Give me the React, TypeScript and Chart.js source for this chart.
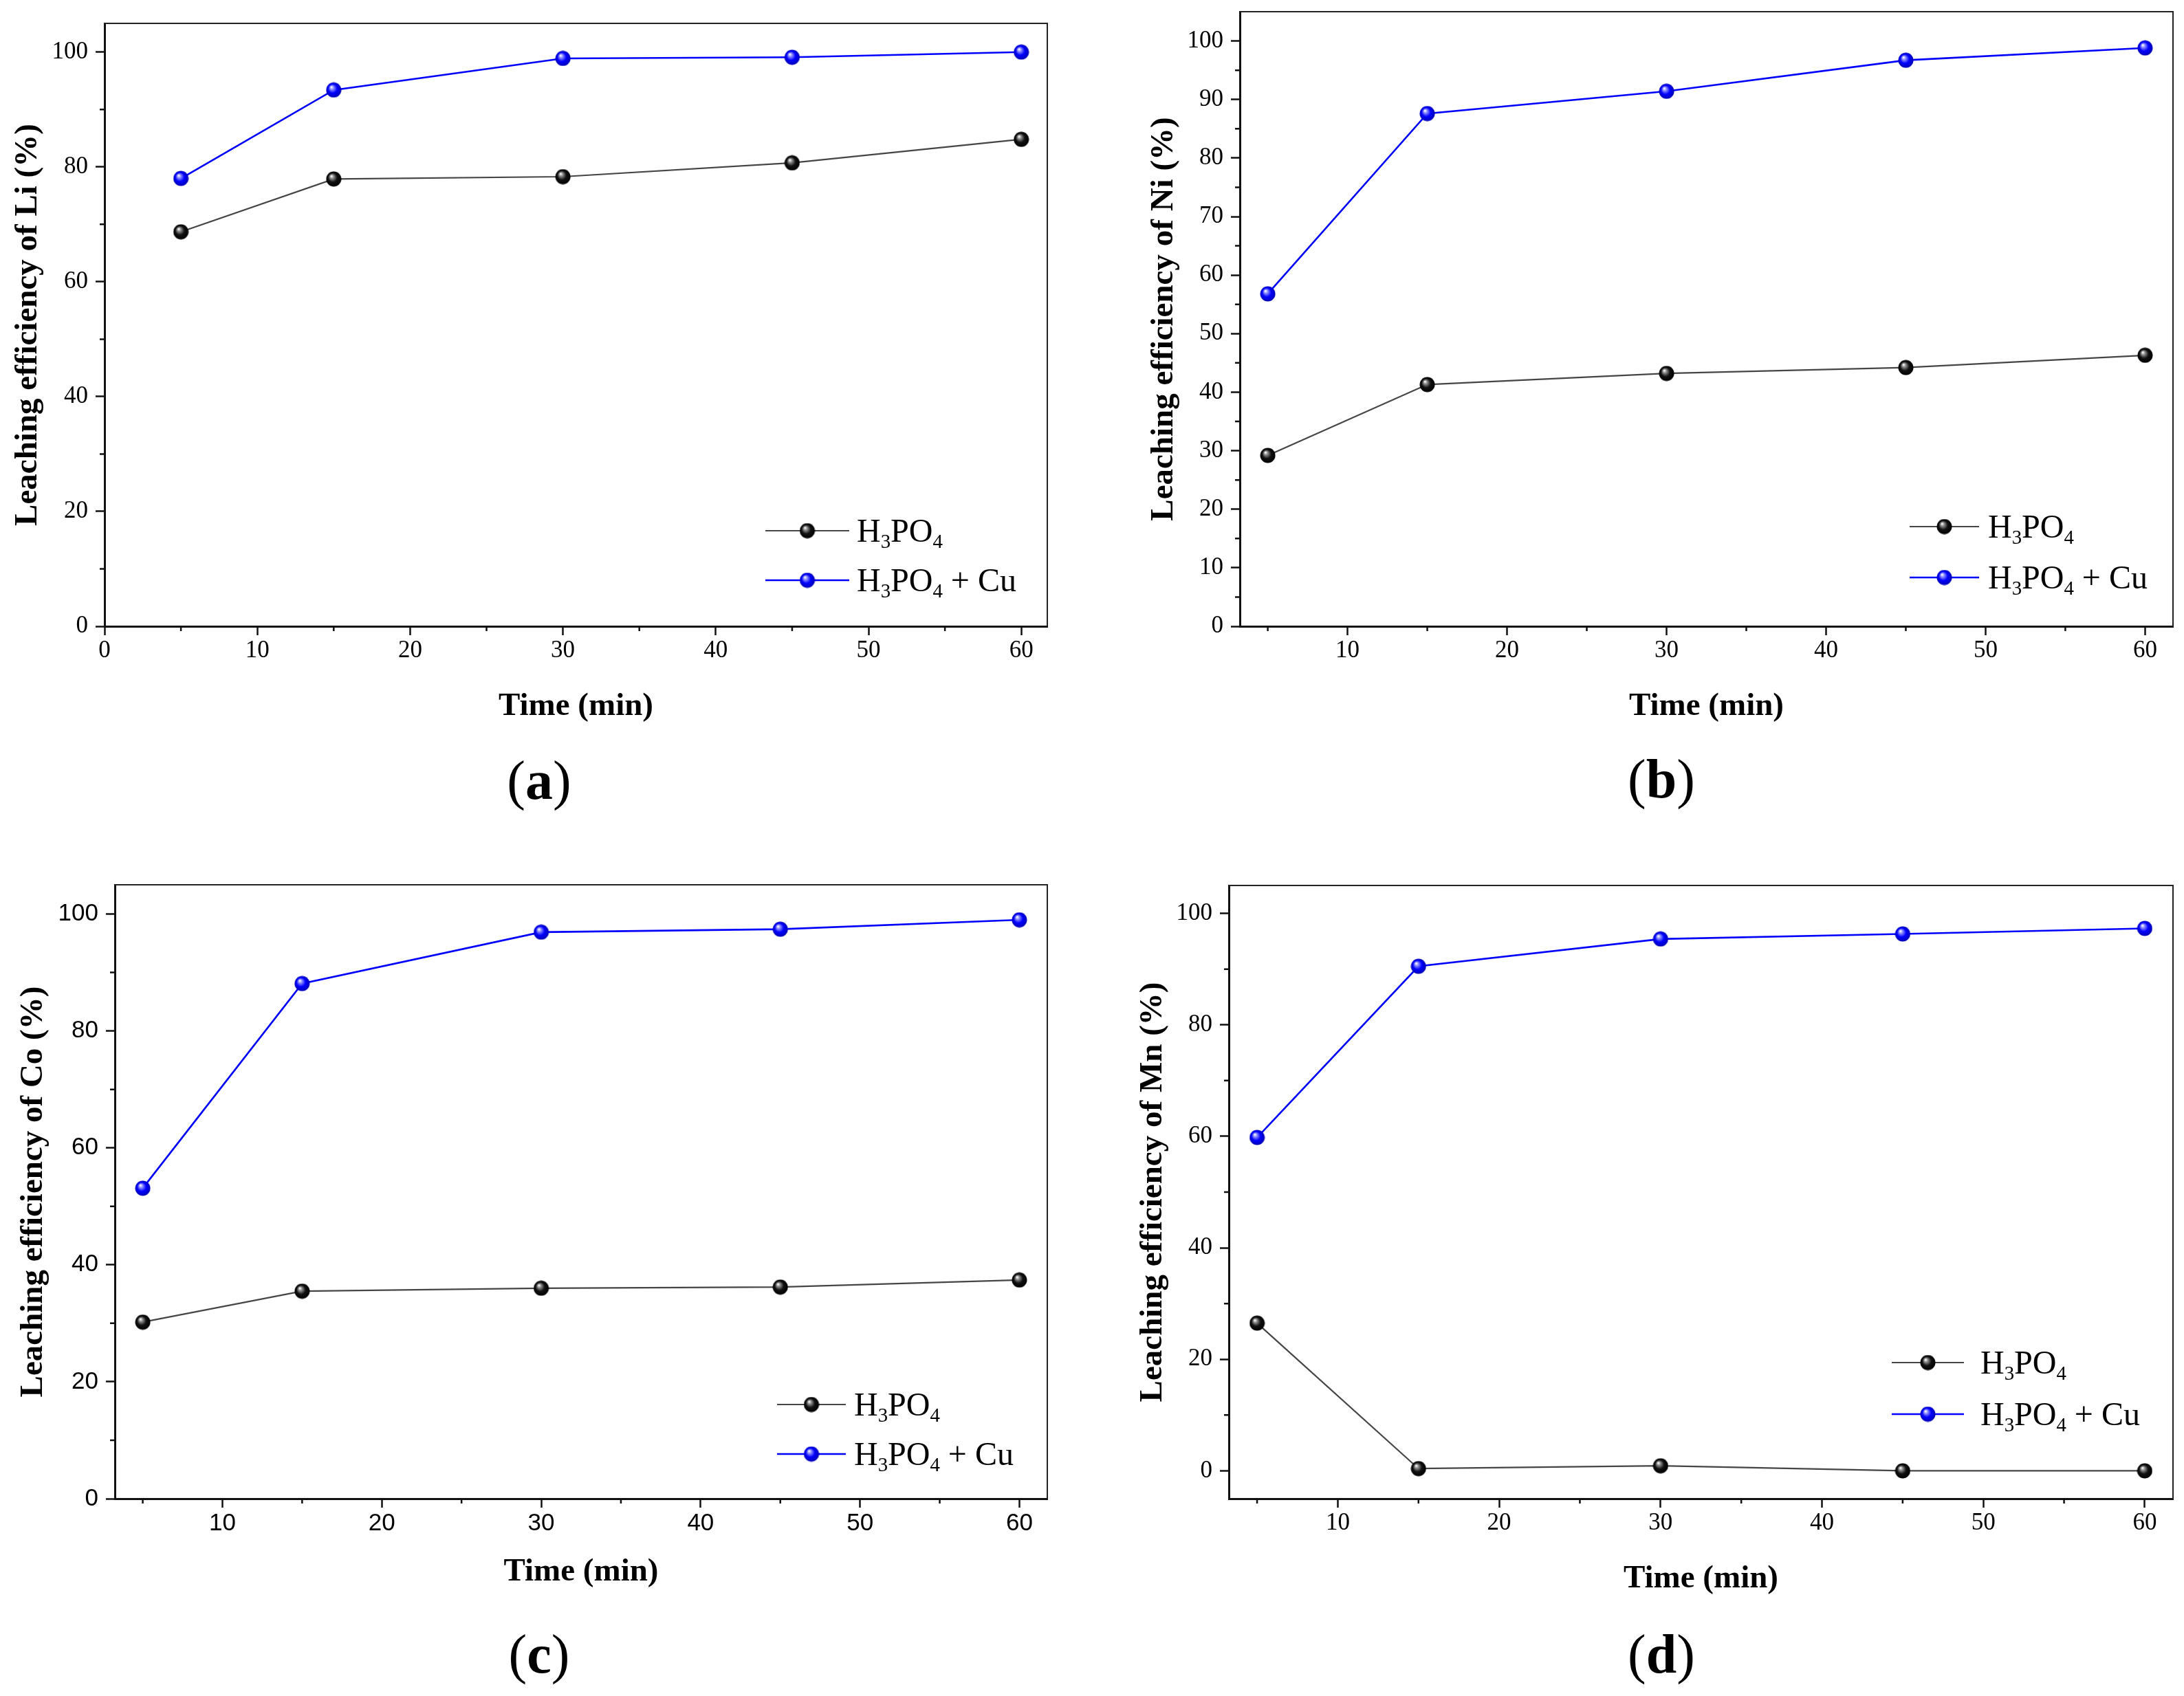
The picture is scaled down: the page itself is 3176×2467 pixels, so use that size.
import React, { useEffect, useRef } from "react";
import { Chart, registerables } from "chart.js";

Chart.register(...registerables);

// leaching time (min)
const timeMin = [5, 15, 30, 45, 60];

// leaching efficiency (%)
const liH3PO4 = [68.7, 77.9, 78.3, 80.7, 84.8];
const liH3PO4Cu = [78.0, 93.4, 98.9, 99.1, 100.0];
const niH3PO4 = [29.2, 41.3, 43.2, 44.2, 46.3];
const niH3PO4Cu = [56.8, 87.6, 91.4, 96.7, 98.8];
const coH3PO4 = [30.2, 35.5, 36.0, 36.2, 37.4];
const coH3PO4Cu = [53.1, 88.1, 96.9, 97.4, 99.0];
const mnH3PO4 = [26.5, 0.4, 0.9, 0.0, 0.0];
const mnH3PO4Cu = [59.8, 90.5, 95.4, 96.3, 97.3];

const seriesNames = ["H3PO4", "H3PO4 + Cu"];

// tick values
const xTicksFromZero = [0, 10, 20, 30, 40, 50, 60];
const xTicks = [10, 20, 30, 40, 50, 60];
const xMinor = [5, 15, 25, 35, 45, 55];
const yTicks20 = [0, 20, 40, 60, 80, 100];
const yMinor10 = [10, 30, 50, 70, 90];
const yTicks10 = [0, 10, 20, 30, 40, 50, 60, 70, 80, 90, 100];
const yMinor5 = [5, 15, 25, 35, 45, 55, 65, 75, 85, 95];

const SERIF = "'Liberation Serif', 'Times New Roman', serif";
const SANS = "'Liberation Sans', Arial, sans-serif";

const TITLE_SIZE = 47;
const TICK_SIZE = 35;
const LEGEND_SIZE = 48;

function makeSphere(light: string, base: string, dark: string) {
  const size = 23;
  const c = document.createElement("canvas");
  c.width = size;
  c.height = size;
  const g = c.getContext("2d") as CanvasRenderingContext2D;
  const r = size / 2;
  const grad = g.createRadialGradient(r * 0.7, r * 0.62, r * 0.04, r, r, r);
  grad.addColorStop(0, "#ffffff");
  grad.addColorStop(0.18, light);
  grad.addColorStop(0.55, base);
  grad.addColorStop(1, dark);
  g.fillStyle = grad;
  g.beginPath();
  g.arc(r, r, r - 0.5, 0, Math.PI * 2);
  g.fill();
  return c;
}

function drawChem(ctx: CanvasRenderingContext2D, text: string, x: number, baseline: number) {
  let cx = x;
  const parts = text.match(/(\d+|\D+)/g) || [];
  for (const part of parts) {
    const sub = /^\d+$/.test(part);
    const size = sub ? LEGEND_SIZE * 0.6 : LEGEND_SIZE;
    ctx.font = `${size}px ${SERIF}`;
    ctx.fillText(part, cx, baseline + (sub ? LEGEND_SIZE * 0.2 : 0));
    cx += ctx.measureText(part).width;
  }
}

const framePlugin = {
  id: "originFrame",
  afterDraw(chart: any) {
    const { ctx, chartArea, scales } = chart;
    const extra = chart.options.plugins.originFrame;
    ctx.save();
    // top and right frame
    ctx.strokeStyle = "#222";
    ctx.lineWidth = 2;
    ctx.beginPath();
    ctx.moveTo(chartArea.left, chartArea.top);
    ctx.lineTo(chartArea.right, chartArea.top);
    ctx.lineTo(chartArea.right, chartArea.bottom);
    ctx.stroke();
    // minor ticks
    ctx.strokeStyle = "#111";
    ctx.lineWidth = 2.5;
    ctx.beginPath();
    for (const v of extra.xMinor) {
      const px = scales.x.getPixelForValue(v);
      ctx.moveTo(px, chartArea.bottom);
      ctx.lineTo(px, chartArea.bottom + 7);
    }
    for (const v of extra.yMinor) {
      const py = scales.y.getPixelForValue(v);
      ctx.moveTo(chartArea.left, py);
      ctx.lineTo(chartArea.left - 7, py);
    }
    ctx.stroke();
    // legend
    const lg = extra.legend;
    chart.data.datasets.forEach((ds: any, i: number) => {
      const y = chartArea.bottom - lg.rows[i];
      const x0 = chartArea.right - lg.x0;
      const x1 = chartArea.right - lg.x1;
      ctx.strokeStyle = ds.borderColor;
      ctx.lineWidth = ds.borderWidth;
      ctx.beginPath();
      ctx.moveTo(x0, y);
      ctx.lineTo(x1, y);
      ctx.stroke();
      const img = ds.pointStyle as HTMLCanvasElement;
      ctx.drawImage(img, (x0 + x1) / 2 - img.width / 2, y - img.height / 2);
      ctx.fillStyle = "#000";
      ctx.textBaseline = "alphabetic";
      ctx.textAlign = "left";
      drawChem(ctx, ds.label, chartArea.right - lg.text, y + LEGEND_SIZE * 0.33);
    });
    ctx.restore();
  },
};

type PanelDef = {
  letter: string;
  left: number;
  area: { l: number; t: number; r: number; b: number };
  xRange: number[];
  yRange: number[];
  xMajor: number[];
  yMajor: number[];
  yMinorTicks: number[];
  yTitle: string;
  yTitleX: number;
  xTitleOff: number;
  labelX: number;
  labelOff: number;
  tickFamily: string;
  legend: { x0: number; x1: number; text: number; rows: number[] };
  acid: number[];
  acidCu: number[];
};

const panels: PanelDef[] = [
  {
    letter: "a", left: 0, area: { l: 152, t: 34, r: 1523, b: 911 },
    xRange: [0, 61.7], yRange: [0, 105], xMajor: xTicksFromZero, yMajor: yTicks20, yMinorTicks: yMinor10,
    yTitle: "Leaching efficiency of Li (%)", yTitleX: 41, xTitleOff: 117, labelX: 784, labelOff: 224,
    tickFamily: SERIF, legend: { x0: 410, x1: 288, text: 277, rows: [139, 67] },
    acid: liH3PO4, acidCu: liH3PO4Cu,
  },
  {
    letter: "b", left: 1588, area: { l: 1803, t: 17, r: 3160, b: 911 },
    xRange: [3.25, 61.75], yRange: [0, 105], xMajor: xTicks, yMajor: yTicks10, yMinorTicks: yMinor5,
    yTitle: "Leaching efficiency of Ni (%)", yTitleX: 1693, xTitleOff: 117, labelX: 2416, labelOff: 222,
    tickFamily: SERIF, legend: { x0: 383, x1: 282, text: 269, rows: [145, 71] },
    acid: niH3PO4, acidCu: niH3PO4Cu,
  },
  {
    letter: "c", left: 0, area: { l: 167, t: 1287, r: 1523, b: 2180 },
    xRange: [3.25, 61.75], yRange: [0, 105], xMajor: xTicks, yMajor: yTicks20, yMinorTicks: yMinor10,
    yTitle: "Leaching efficiency of Co (%)", yTitleX: 49, xTitleOff: 107, labelX: 784, labelOff: 226,
    tickFamily: SANS, legend: { x0: 393, x1: 293, text: 281, rows: [137, 65] },
    acid: coH3PO4, acidCu: coH3PO4Cu,
  },
  {
    letter: "d", left: 1588, area: { l: 1787, t: 1288, r: 3160, b: 2180 },
    xRange: [3.25, 61.75], yRange: [-5, 105], xMajor: xTicks, yMajor: yTicks20, yMinorTicks: yMinor10,
    yTitle: "Leaching efficiency of Mn (%)", yTitleX: 1677, xTitleOff: 117, labelX: 2416, labelOff: 226,
    tickFamily: SERIF, legend: { x0: 409, x1: 304, text: 280, rows: [198, 123] },
    acid: mnH3PO4, acidCu: mnH3PO4Cu,
  },
];

const PanelChart = ({ p }: { p: PanelDef }) => {
  const canvasRef = useRef<HTMLCanvasElement>(null);
  const boxTop = p.area.t - 40;
  const boxW = 1588;
  const boxH = p.area.b + 200 - boxTop;

  useEffect(() => {
    const blackBall = makeSphere("#9a9a9a", "#111", "#000");
    const blueBall = makeSphere("#9a9aff", "#0000ff", "#0000b0");
    const lh = TITLE_SIZE * 1.2;
    const tickFont = { family: p.tickFamily, size: TICK_SIZE };
    const chart = new Chart(canvasRef.current as HTMLCanvasElement, {
      type: "line",
      data: {
        datasets: [
          {
            label: seriesNames[0],
            data: timeMin.map((t, i) => ({ x: t, y: p.acid[i] })),
            borderColor: "#454545",
            borderWidth: 2.2,
            pointStyle: blackBall,
            pointRadius: 11,
          },
          {
            label: seriesNames[1],
            data: timeMin.map((t, i) => ({ x: t, y: p.acidCu[i] })),
            borderColor: "#0000ff",
            borderWidth: 2.6,
            pointStyle: blueBall,
            pointRadius: 11,
          },
        ],
      },
      options: {
        animation: false,
        responsive: false,
        devicePixelRatio: 1,
        events: [],
        layout: {
          padding: { left: 0, top: 40, right: p.left + boxW - p.area.r, bottom: 0 },
        },
        scales: {
          x: {
            type: "linear",
            min: p.xRange[0],
            max: p.xRange[1],
            afterBuildTicks: (s: any) => {
              s.ticks = p.xMajor.map((v) => ({ value: v }));
            },
            afterFit: (s: any) => {
              s.height = 200;
            },
            ticks: { color: "#000", font: tickFont, padding: 2, maxRotation: 0 },
            grid: { drawOnChartArea: false, drawTicks: true, tickLength: 13, tickWidth: 2.5, tickColor: "#111" },
            border: { display: true, color: "#111", width: 3 },
            title: {
              display: true,
              text: "Time (min)",
              color: "#000",
              font: { family: SERIF, size: TITLE_SIZE, weight: "bold" },
              padding: { top: 0, bottom: 200 - lh / 2 - p.xTitleOff },
            },
          },
          y: {
            type: "linear",
            min: p.yRange[0],
            max: p.yRange[1],
            afterBuildTicks: (s: any) => {
              s.ticks = p.yMajor.map((v) => ({ value: v }));
            },
            afterFit: (s: any) => {
              s.width = p.area.l - p.left;
            },
            ticks: { color: "#000", font: tickFont, padding: 11 },
            grid: { drawOnChartArea: false, drawTicks: true, tickLength: 13, tickWidth: 2.5, tickColor: "#111" },
            border: { display: true, color: "#111", width: 3 },
            title: {
              display: true,
              text: p.yTitle,
              color: "#000",
              font: { family: SERIF, size: TITLE_SIZE, weight: "bold" },
              padding: { top: p.yTitleX - p.left - lh / 2, bottom: 0 },
            },
          },
        },
        plugins: {
          legend: { display: false },
          tooltip: { enabled: false },
          originFrame: { xMinor, yMinor: p.yMinorTicks, legend: p.legend },
        } as any,
      },
      plugins: [framePlugin],
    } as any);
    return () => {
      chart.destroy();
    };
  }, []);

  return (
    <>
      <canvas
        ref={canvasRef}
        width={boxW}
        height={boxH}
        style={{ position: "absolute", left: p.left, top: boxTop, width: boxW, height: boxH }}
      />
      <div
        style={{
          position: "absolute",
          left: p.labelX,
          top: p.area.b + p.labelOff,
          transform: "translate(-50%, -50%)",
          fontFamily: SERIF,
          fontSize: 80,
          lineHeight: 1,
          color: "#000",
          whiteSpace: "nowrap",
        }}
      >
        (<b>{p.letter}</b>)
      </div>
    </>
  );
};

export default function App() {
  return (
    <div
      style={{
        position: "fixed",
        left: 0,
        top: 0,
        width: 3176,
        height: 2467,
        background: "#fff",
        overflow: "hidden",
      }}
    >
      {panels.map((p) => (
        <PanelChart key={p.letter} p={p} />
      ))}
    </div>
  );
}
